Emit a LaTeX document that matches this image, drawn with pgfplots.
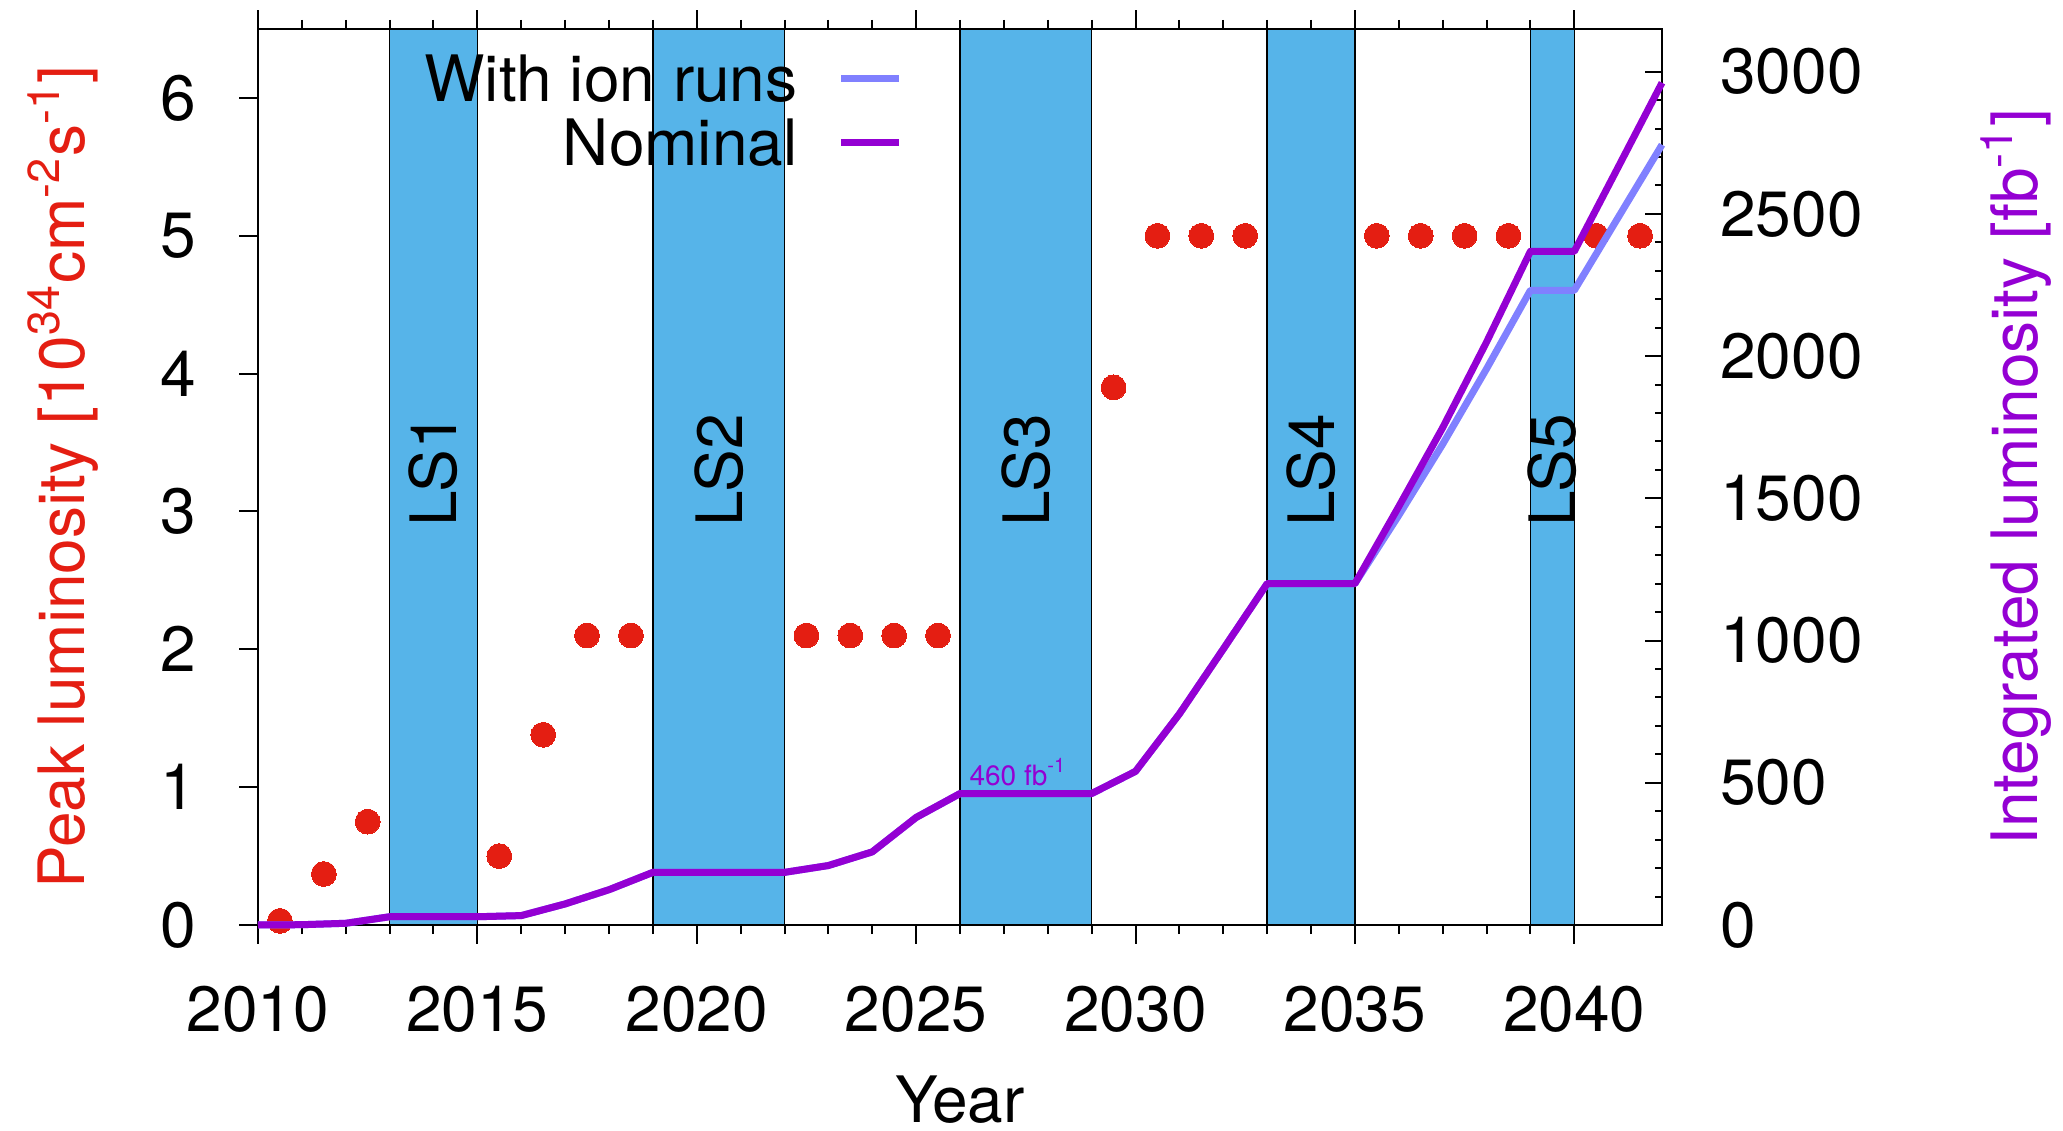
\documentclass[border=0pt]{standalone}
\usepackage{pgfplots}
\pgfplotsset{compat=1.18}
\usepackage{fontspec}
\setmainfont{TeX Gyre Heros}
\definecolor{lsblue}{HTML}{56B4E9}
\definecolor{peakred}{HTML}{E41E12}
\definecolor{nomviolet}{HTML}{9400D3}
\definecolor{ionblue}{HTML}{8080FF}
\newcommand{\bigf}{\fontsize{16}{19.2}\selectfont}

\begin{document}
\begin{tikzpicture}
\begin{axis}[
  at={(0pt,0pt)}, anchor=south west,
  scale only axis, width=351pt, height=224pt,
  xmin=2010, xmax=2042, ymin=0, ymax=6.5,
  axis on top,
  xtick={2010,2015,...,2040}, minor x tick num=4,
  ytick={0,1,...,6}, ytick pos=left, xtick pos=both,
  tick align=outside,
  major tick length=4.7pt, minor tick length=2.3pt,
  every tick/.style={black, line width=0.5pt},
  axis line style={line width=0.6pt},
  /pgf/number format/assume math mode=true,
  /pgf/number format/1000 sep={},
  tick label style={font=\bigf},
  xticklabel style={inner sep=0pt, anchor=north, yshift=-10.5pt},
  yticklabel style={inner sep=0pt, anchor=east, xshift=-10.5pt},
  xlabel={Year},
  xlabel style={at={(axis description cs:0.5,-0.195)}, anchor=center, inner sep=0pt, font=\bigf},
  ylabel={Peak luminosity [10\textsuperscript{34}cm\textsuperscript{-2}s\textsuperscript{-1}]},
  ylabel style={at={(axis description cs:-0.13889,0.5)}, anchor=center, rotate=0, font=\bigf, text=peakred},
]
% Long shutdowns
\addplot[fill=lsblue, draw=black, line width=0.35pt] coordinates {(2013,0) (2013,6.5) (2015,6.5) (2015,0)} \closedcycle;
\addplot[fill=lsblue, draw=black, line width=0.35pt] coordinates {(2019,0) (2019,6.5) (2022,6.5) (2022,0)} \closedcycle;
\addplot[fill=lsblue, draw=black, line width=0.35pt] coordinates {(2026,0) (2026,6.5) (2029,6.5) (2029,0)} \closedcycle;
\addplot[fill=lsblue, draw=black, line width=0.35pt] coordinates {(2033,0) (2033,6.5) (2035,6.5) (2035,0)} \closedcycle;
\addplot[fill=lsblue, draw=black, line width=0.35pt] coordinates {(2039,0) (2039,6.5) (2040,6.5) (2040,0)} \closedcycle;
\node[rotate=90, font=\bigf] at (axis cs:2014,3.3) {LS1};
\node[rotate=90, font=\bigf] at (axis cs:2020.5,3.3) {LS2};
\node[rotate=90, font=\bigf] at (axis cs:2027.5,3.3) {LS3};
\node[rotate=90, font=\bigf] at (axis cs:2034,3.3) {LS4};
\node[rotate=90, font=\bigf] at (axis cs:2039.5,3.3) {LS5};
% Peak luminosity
\addplot[peakred, only marks, mark=*, mark size=3.1pt, mark options={fill=peakred, draw=peakred, line width=0pt}] coordinates {
(2010.5,0.03) (2011.5,0.37) (2012.5,0.75) (2015.5,0.5) (2016.5,1.38)
(2017.5,2.1) (2018.5,2.1) (2022.5,2.1) (2023.5,2.1) (2024.5,2.1) (2025.5,2.1)
(2029.5,3.9) (2030.5,5) (2031.5,5) (2032.5,5)
(2035.5,5) (2036.5,5) (2037.5,5) (2038.5,5) (2040.5,5) (2041.5,5)
};
\end{axis}

\begin{axis}[
  at={(0pt,0pt)}, anchor=south west,
  scale only axis, width=351pt, height=224pt,
  xmin=2010, xmax=2042, ymin=0, ymax=3150,
  axis x line=none, axis y line*=right,
  ytick={0,500,...,3000}, minor y tick num=4,
  tick align=inside,
  major tick length=4.25pt, minor tick length=1.8pt,
  every tick/.style={black, line width=0.5pt},
  axis line style={line width=0.6pt},
  clip=false,
  /pgf/number format/assume math mode=true,
  /pgf/number format/1000 sep={},
  tick label style={font=\bigf},
  yticklabel style={inner sep=0pt, anchor=west, xshift=14.4pt},
  ylabel={Integrated luminosity [fb\textsuperscript{-1}]},
  ylabel style={at={(axis description cs:1.2521,0.5)}, anchor=center, rotate=0, font=\bigf, text=nomviolet},
  legend style={draw=none, fill=none, at={(axis description cs:0.4682,0.9826)}, anchor=north east,
    font=\bigf, row sep=0pt, column sep=10pt,
    nodes={inner sep=0pt, text height=12pt, text depth=4pt}},
  legend plot pos=right,
  legend cell align=right,
  legend image code/.code={\draw[#1] (0pt,1.7pt) -- (14.5pt,1.7pt);},
]
\addplot[ionblue, line width=1.75pt, line join=round] coordinates {
(2010,0) (2011,1) (2012,6) (2013,29) (2014,29) (2015,29) (2016,33) (2017,74) (2018,124)
(2019,185) (2020,185) (2021,185) (2022,185) (2023,209) (2024,257) (2025,378)
(2026,462) (2027,462) (2028,462) (2029,462) (2030,540) (2031,742) (2032,970)
(2033,1200) (2034,1200) (2035,1200) (2036,1440) (2037,1690) (2038,1955)
(2039,2231) (2040,2231) (2041,2487) (2042,2743)
};
\addlegendentry{With ion runs}
\addplot[nomviolet, line width=1.75pt, line join=round] coordinates {
(2010,0) (2011,1) (2012,6) (2013,29) (2014,29) (2015,29) (2016,33) (2017,74) (2018,124)
(2019,185) (2020,185) (2021,185) (2022,185) (2023,209) (2024,257) (2025,378)
(2026,462) (2027,462) (2028,462) (2029,462) (2030,540) (2031,742) (2032,970)
(2033,1200) (2034,1200) (2035,1200) (2036,1471) (2037,1748) (2038,2049)
(2039,2368) (2040,2368) (2041,2664) (2042,2961)
};
\addlegendentry{Nominal}
\node[anchor=base west, text=nomviolet, font=\fontsize{7}{8.4}\selectfont, inner sep=0pt] at (axis cs:2026.2,492) {460 fb\textsuperscript{-1}};
\end{axis}
\pgfresetboundingbox
\path (-64.5pt,-51.5pt) rectangle (451.25pt,231.25pt);
\end{tikzpicture}
\end{document}
